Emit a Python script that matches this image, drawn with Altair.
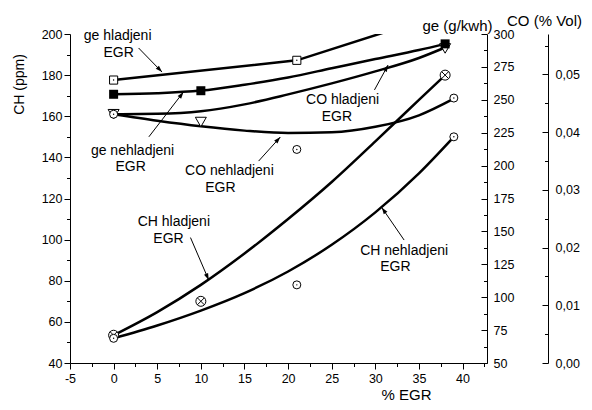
import math
import altair as alt
import pandas as pd

# ---------------- values ----------------
EGR_GRID_38 = [0, 5, 10, 15, 20, 25, 30, 35, 38]
EGR_GRID_39 = [0, 5, 10, 15, 20, 25, 30, 35, 39]

# CH (ppm) fitted curves and measured points
CH_HL_CURVE = [53.5, 64.75, 78, 93.25, 110, 128, 147.75, 168, 180]
CH_NH_CURVE = [52, 58.25, 65.5, 74, 84.5, 97.5, 113.25, 132.25, 150]
CH_HL_EGR = [0, 10, 38]
CH_HL = [53.5, 70, 180]
CH_NH_EGR = [0, 21, 39]
CH_NH = [52, 78, 150]

# ge (g/kWh)
GE_HL_EGR = [0, 21, 38]
GE_HL = [265, 280, 316]
GE_NH_CURVE = [254.2, 255, 257, 261.5, 267, 274, 281, 287.8, 292.5]
GE_NH_EGR = [0, 10, 38]
GE_NH = [254.2, 256.9, 292.5]

# CO (% Vol)
CO_HL_CURVE = [0.0431, 0.04317, 0.0436, 0.04481, 0.04654, 0.04844, 0.05052, 0.05285, 0.05467]
CO_HL_EGR = [0, 10, 38]
CO_HL = [0.0431, 0.04175, 0.0545]
CO_NH_CURVE = [0.04308, 0.04196, 0.04100, 0.04026, 0.03984, 0.03997, 0.04092, 0.04291, 0.0458]
CO_NH_EGR = [0, 21, 39]
CO_NH = [0.0431, 0.0370, 0.0459]

# annotations (x in % EGR, y in CH units)
NOTE_TEXT = ["ge hladjeni", "EGR", "ge nehladjeni", "EGR", "CO nehladjeni", "EGR",
             "CO hladjeni", "EGR", "CH hladjeni", "EGR", "CH nehladjeni", "EGR"]
NOTE_X = [0.46, 0.57, 2.17, 1.95, 13.27, 12.24, 26.25, 25.6, 6.9, 6.29, 33.3, 32.3]
NOTE_Y = [199.0, 190.8, 143.1, 135.3, 133.2, 125.1, 167.9, 159.6, 108.6, 100.3, 94.7, 86.5]

ARROW_X1 = [2.86, 4.04, 16.62, 29.9, 8.81, 33.3]
ARROW_Y1 = [193.2, 150.0, 138.2, 172.8, 101.0, 99.8]
ARROW_X2 = [5.55, 8.01, 19.11, 31.46, 10.9, 30.74]
ARROW_Y2 = [181.5, 171.8, 149.9, 184.9, 80.4, 115.6]

X_TICKS = [-5, -2.5, 0, 2.5, 5, 7.5, 10, 12.5, 15, 17.5, 20, 22.5, 25, 27.5, 30,
           32.5, 35, 37.5, 40, 42.5]
CH_TICKS = [40, 50, 60, 70, 80, 90, 100, 110, 120, 130, 140, 150, 160, 170, 180, 190, 200]
GE_MAJOR = [50, 75, 100, 125, 150, 175, 200, 225, 250, 275, 300]
GE_MINOR = [62.5, 87.5, 112.5, 137.5, 162.5, 187.5, 212.5, 237.5, 262.5, 287.5]
CO_MAJOR = [0, 0.01, 0.02, 0.03, 0.04, 0.05]
CO_MINOR = [0.005, 0.015, 0.025, 0.035, 0.045, 0.055]

# ---------------- layout / style ----------------
W, H = 417, 329
X_DOM = [-5, 42.8]
CH_DOM = [40, 200]
GE_DOM = [50, 300]
CO_DOM = [0, 0.057]
FONT = "Liberation Sans"

CROSS_CIRCLE = ("M-1,0A1,1,0,1,0,1,0A1,1,0,1,0,-1,0Z"
                "M-0.707,-0.707L0.707,0.707M-0.707,0.707L0.707,-0.707")
ARROW_HEAD = "M0,0L0.33,1L-0.33,1Z"


def cond(step, major, minor):
    return {"condition": {"test": f"datum.value % {step} === 0", "value": major},
            "value": minor}


x_axis = alt.Axis(values=X_TICKS, tickSize=cond(5, 6, 3.5), labelFlush=False,
                  labelExpr="datum.value % 5 === 0 ? '' + datum.value : ''",
                  labelOverlap=False, labelPadding=3, title="% EGR",
                  titleX=336, titleY=31, titleAlign="center", titleBaseline="middle",
                  titleFontSize=15)
X = alt.X("x:Q", scale=alt.Scale(domain=X_DOM, nice=False, zero=False), axis=x_axis)

ch_axis = alt.Axis(orient="left", values=CH_TICKS, tickSize=cond(20, 6, 3.5),
                   labelExpr="datum.value % 20 === 0 ? '' + datum.value : ''",
                   labelOverlap=False, labelPadding=2, title="CH (ppm)",
                   titleX=-51, titleY=50, titleAngle=270, titleAlign="center",
                   titleBaseline="middle", titleFontSize=14)
ge_axis = alt.Axis(orient="right", offset=0, values=GE_MAJOR, ticks=False, tickSize=0,
                   labelPadding=6, labelOverlap=False, title="ge (g/kwh)",
                   titleAngle=0, titleX=-30, titleY=-9, titleAlign="center",
                   titleBaseline="middle", titleFontSize=15)
ge_major = alt.Axis(orient="right", offset=-6, values=GE_MAJOR, tickSize=6,
                    domain=False, labels=False, title=None)
ge_minor = alt.Axis(orient="right", offset=-3.5, values=GE_MINOR, tickSize=3.5,
                    domain=False, labels=False, title=None)
co_axis = alt.Axis(orient="right", offset=61, values=CO_MAJOR, ticks=False, tickSize=0,
                   labelExpr="replace(format(datum.value, '.2f'), '.', ',')",
                   labelPadding=7, labelOverlap=False, title="CO (% Vol)",
                   titleAngle=0, titleX=-4, titleY=-14, titleAlign="center",
                   titleBaseline="middle", titleFontSize=15)
co_major = alt.Axis(orient="right", offset=55, values=CO_MAJOR, tickSize=6,
                    domain=False, labels=False, title=None)
co_minor = alt.Axis(orient="right", offset=57.5, values=CO_MINOR, tickSize=3.5,
                    domain=False, labels=False, title=None)


def Y(dom, axis=None, field="v"):
    return alt.Y(f"{field}:Q", scale=alt.Scale(domain=dom, nice=False, zero=False),
                 axis=axis)


def frame(xs, vs, s="a"):
    return pd.DataFrame({"x": xs, "v": vs, "s": s})


ch_lines = pd.concat([frame(EGR_GRID_38, CH_HL_CURVE, "hl"), frame(EGR_GRID_39, CH_NH_CURVE, "nh")])
ge_lines_smooth = frame(EGR_GRID_38, GE_NH_CURVE, "nh")
ge_lines_straight = frame(GE_HL_EGR, GE_HL, "hl")
co_lines = pd.concat([frame(EGR_GRID_38, CO_HL_CURVE, "hl"), frame(EGR_GRID_39, CO_NH_CURVE, "nh")])

line_style = dict(color="black", strokeWidth=2.5, clip=True)

L_ch = alt.Chart(ch_lines).mark_line(interpolate="monotone", **line_style).encode(
    x=X, y=Y(CH_DOM, ch_axis), detail="s:N")
L_ge = alt.Chart(ge_lines_smooth).mark_line(interpolate="monotone", **line_style).encode(
    x=X, y=Y(GE_DOM, ge_axis))
L_ge2 = alt.Chart(ge_lines_straight).mark_line(**line_style).encode(
    x=X, y=Y(GE_DOM, None))
L_co = alt.Chart(co_lines).mark_line(interpolate="monotone", **line_style).encode(
    x=X, y=Y(CO_DOM, co_axis), detail="s:N")

open_style = dict(filled=True, fill="white", stroke="black", strokeWidth=1, opacity=1, clip=True)

P_ch_hl = alt.Chart(frame(CH_HL_EGR, CH_HL)).mark_point(shape=CROSS_CIRCLE, size=100, **open_style).encode(
    x=X, y=Y(CH_DOM))
P_ch_nh = alt.Chart(frame(CH_NH_EGR, CH_NH)).mark_point(shape="circle", size=64, **open_style).encode(
    x=X, y=Y(CH_DOM))
D_ch_nh = alt.Chart(frame(CH_NH_EGR, CH_NH)).mark_point(shape="circle", size=2, filled=True, color="black", opacity=1).encode(
    x=X, y=Y(CH_DOM))

P_co_hl = alt.Chart(frame(CO_HL_EGR, CO_HL)).mark_point(shape="triangle-down", size=121, **open_style).encode(
    x=X, y=Y(CO_DOM, co_major))
P_co_nh = alt.Chart(frame(CO_NH_EGR, CO_NH)).mark_point(shape="circle", size=64, **open_style).encode(
    x=X, y=Y(CO_DOM, co_minor))
D_co_nh = alt.Chart(frame(CO_NH_EGR, CO_NH)).mark_point(shape="circle", size=2, filled=True, color="black", opacity=1).encode(
    x=X, y=Y(CO_DOM))

P_ge_hl = alt.Chart(frame(GE_HL_EGR, GE_HL)).mark_point(shape="square", size=66, **open_style).encode(
    x=X, y=Y(GE_DOM, ge_major))
D_ge_hl = alt.Chart(frame(GE_HL_EGR, GE_HL)).mark_point(shape="circle", size=2, filled=True, color="black", opacity=1, clip=True).encode(
    x=X, y=Y(GE_DOM))
P_ge_nh = alt.Chart(frame(GE_NH_EGR, GE_NH)).mark_point(shape="square", size=81, filled=True, color="black", opacity=1, clip=True).encode(
    x=X, y=Y(GE_DOM, ge_minor))

notes = pd.DataFrame({"x": NOTE_X, "v": NOTE_Y, "t": NOTE_TEXT})
T = alt.Chart(notes).mark_text(font=FONT, fontSize=14, color="black", align="center",
                               baseline="middle").encode(x=X, y=Y(CH_DOM), text="t:N")

# arrow direction in screen space -> rotation of the arrow head
px_x = W / (X_DOM[1] - X_DOM[0])
px_y = H / (CH_DOM[1] - CH_DOM[0])
angles = []
for x1, y1, x2, y2 in zip(ARROW_X1, ARROW_Y1, ARROW_X2, ARROW_Y2):
    dx = (x2 - x1) * px_x
    dy = -(y2 - y1) * px_y
    angles.append(math.degrees(math.atan2(dx, -dy)) % 360)
arrows = pd.DataFrame({"x": ARROW_X1, "v": ARROW_Y1, "x2": ARROW_X2, "v2": ARROW_Y2, "a": angles})

R = alt.Chart(arrows).mark_rule(color="black", strokeWidth=1).encode(
    x=X, y=Y(CH_DOM), x2="x2:Q", y2="v2:Q")
A = alt.Chart(arrows).mark_point(shape=ARROW_HEAD, size=180, filled=True, color="black", opacity=1).encode(
    x=alt.X("x2:Q", scale=alt.Scale(domain=X_DOM, nice=False, zero=False), axis=x_axis),
    y=Y(CH_DOM, None, "v2"), angle=alt.Angle("a:Q", scale=None))

chart = alt.layer(
    L_co, L_ch, L_ge, L_ge2,
    P_ch_hl, P_ch_nh, D_ch_nh,
    P_co_hl, P_co_nh, D_co_nh,
    P_ge_hl, D_ge_hl, P_ge_nh,
    T, R, A,
).resolve_scale(y="independent").properties(
    width=W, height=H,
    padding={"left": 62, "top": 26, "right": 97, "bottom": 39},
    autosize=alt.AutoSizeParams(type="none"),
    background="white",
).configure_view(stroke=None).configure_axis(
    grid=False, domainColor="black", domainWidth=1, tickColor="black", tickWidth=1,
    labelColor="black", titleColor="black", labelFont=FONT, titleFont=FONT,
    labelFontSize=12.5, titleFontWeight="normal",
)

chart.save("out.html", embed_options={"renderer": "svg", "actions": False})
